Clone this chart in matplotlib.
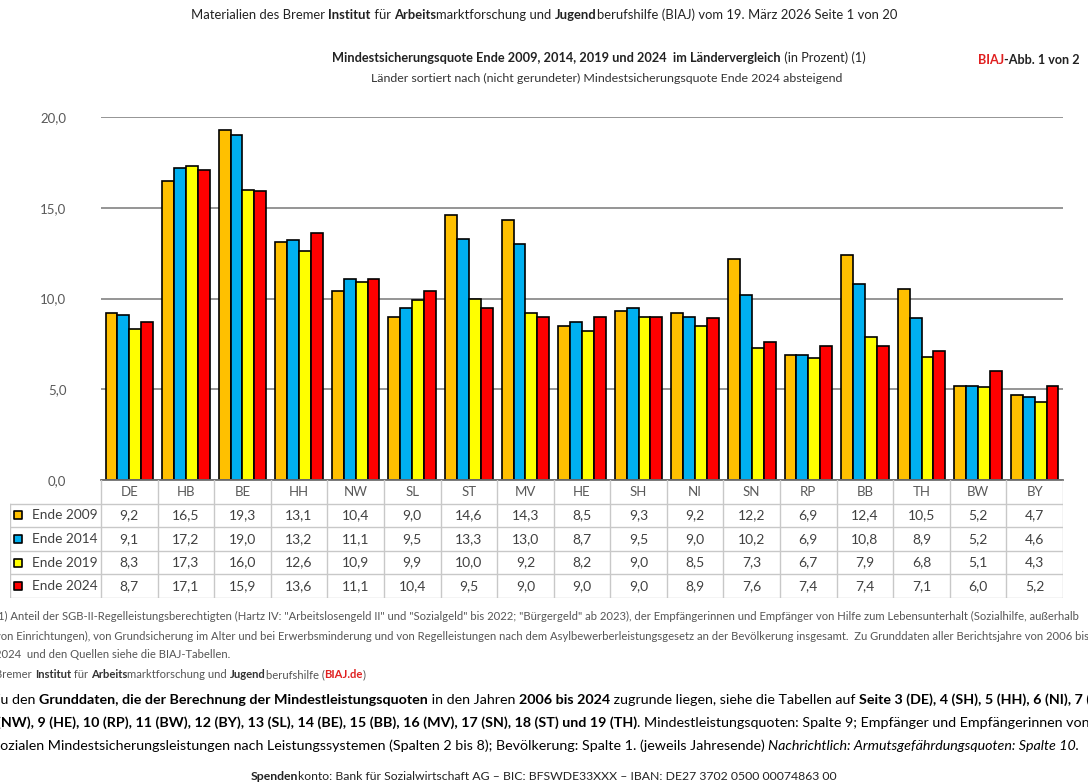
import numpy as np
import matplotlib.pyplot as plt

plt.rcParams['font.family'] = ['Lato', 'DejaVu Sans']

laender = ['DE', 'HB', 'BE', 'HH', 'NW', 'SL', 'ST', 'MV', 'HE', 'SH', 'NI',
           'SN', 'RP', 'BB', 'TH', 'BW', 'BY']
q2009 = [9.2, 16.5, 19.3, 13.1, 10.4, 9.0, 14.6, 14.3, 8.5, 9.3, 9.2, 12.2, 6.9, 12.4, 10.5, 5.2, 4.7]
q2014 = [9.1, 17.2, 19.0, 13.2, 11.1, 9.5, 13.3, 13.0, 8.7, 9.5, 9.0, 10.2, 6.9, 10.8, 8.9, 5.2, 4.6]
q2019 = [8.3, 17.3, 16.0, 12.6, 10.9, 9.9, 10.0, 9.2, 8.2, 9.0, 8.5, 7.3, 6.7, 7.9, 6.8, 5.1, 4.3]
q2024 = [8.7, 17.1, 15.9, 13.6, 11.1, 10.4, 9.5, 9.0, 9.0, 9.0, 8.9, 7.6, 7.4, 7.4, 7.1, 6.0, 5.2]
reihen = ['Ende 2009', 'Ende 2014', 'Ende 2019', 'Ende 2024']
farben = ['#FFC000', '#00B0F0', '#FFFF00', '#FF0000']

W, H = 1088, 782
fig = plt.figure(figsize=(W / 100, H / 100), dpi=100)
renderer = fig.canvas.get_renderer()


def fmt(v):
    return f"{v:.1f}".replace('.', ',')


def breite(s, **kw):
    t = fig.text(0, 0, s, **kw)
    w = t.get_window_extent(renderer).width
    t.remove()
    return w


def rich(x, y, teile, size, ha='left', color='#000000'):
    # teile: (text, weight, farbe, style); Stücke nebeneinander setzen
    ws = [breite('x' + s + 'x', fontsize=size, fontweight=wt, fontstyle=st)
          - breite('xx', fontsize=size, fontweight=wt, fontstyle=st) for s, wt, c, st in teile]
    start = x - sum(ws) / 2 if ha == 'center' else x
    for (s, wt, c, st), w in zip(teile, ws):
        fig.text(start / W, 1 - y / H, s, fontsize=size, fontweight=wt,
                 fontstyle=st, color=c or color, ha='left', va='center')
        start += w


N, B = 'normal', 'bold'

# Kopfzeile
rich(544, 15, [('Materialien des Bremer ', N, None, N), ('Institut', B, None, N),
               (' für ', N, None, N), ('Arbeits', B, None, N),
               ('marktforschung und ', N, None, N), ('Jugend', B, None, N),
               ('berufshilfe (BIAJ) vom 19. März 2026 Seite 1 von 20', N, None, N)],
     9.4, ha='center', color='#222222')
rich(599, 58, [('Mindestsicherungsquote Ende 2009, 2014, 2019 und 2024  im Ländervergleich', B, None, N),
               (' (in Prozent) (1)', N, None, N)], 9.2, ha='center', color='#222222')
rich(607, 78, [('Länder sortiert nach (nicht gerundeter) Mindestsicherungsquote Ende 2024 absteigend', N, None, N)],
     8.9, ha='center', color='#333333')
rich(978, 60, [('BIAJ', B, '#E02020', N), ('-Abb. 1 von 2', B, '#222222', N)], 9.1)

# Diagramm
x0, x1, ytop, ybot = 101, 1063, 117, 480
ax = fig.add_axes([x0 / W, 1 - ybot / H, (x1 - x0) / W, (ybot - ytop) / H])
x = np.arange(len(laender))
bw = 0.21
for i, (werte, f) in enumerate(zip([q2009, q2014, q2019, q2024], farben)):
    ax.bar(x + (i - 1.5) * bw, werte, bw, color=f, edgecolor='black', linewidth=1.2, zorder=3)
ax.set_xlim(-0.5, len(laender) - 0.5)
ax.set_ylim(0, 20)
ax.set_yticks([0, 5, 10, 15, 20])
ax.set_yticklabels([fmt(v) for v in [0, 5, 10, 15, 20]])
ax.tick_params(axis='y', length=0, pad=25, labelsize=9.5, labelcolor='#595959')
ax.set_xticks([])
ax.grid(axis='y', color='#8c8c8c', linewidth=1.3, zorder=0)
for s in ['top', 'left', 'right']:
    ax.spines[s].set_visible(False)
ax.spines['bottom'].set_color('#6f6f6f')
ax.spines['bottom'].set_linewidth(1.3)
ax.spines['bottom'].set_zorder(4)

# Datentabelle
lab_w = (x0 - 10) / 56.6
tab = fig.add_axes([10 / W, 1 - 598 / H, (x1 - 10) / W, (598 - ybot) / H])
tab.set_xlim(-0.5 - lab_w, len(laender) - 0.5)
tab.set_ylim(5, 0)
tab.axis('off')
gc = '#c8c8c8'
for k in range(len(laender) + 1):
    tab.plot([k - 0.5, k - 0.5], [0, 5], color=gc, lw=1)
for r in range(1, 6):
    tab.plot([-0.5 - lab_w, len(laender) - 0.5], [r, r], color=gc, lw=1)
tab.plot([-0.5 - lab_w, -0.5 - lab_w], [1, 5], color=gc, lw=1)
for j, l in enumerate(laender):
    tab.text(j, 0.5, l, ha='center', va='center', fontsize=9.5, color='#595959')
for r, (name, werte, f) in enumerate(zip(reihen, [q2009, q2014, q2019, q2024], farben)):
    yy = r + 1.5
    tab.scatter([-0.5 - lab_w + 8 / 56.6], [yy], s=34, marker='s', color=f,
                edgecolor='black', linewidth=1.2, zorder=3, clip_on=False)
    tab.text(-0.5 - lab_w + 22 / 56.6, yy, name, ha='left', va='center', fontsize=9.8, color='#404040')
    for j, v in enumerate(werte):
        tab.text(j, yy, fmt(v), ha='center', va='center', fontsize=10, color='#404040')

# Fußnoten
g = '#555555'
fs = 8.1
rich(-5, 616, [('(1) Anteil der SGB-II-Regelleistungsberechtigten (Hartz IV: "Arbeitslosengeld II" und "Sozialgeld" bis 2022; "Bürgergeld" ab 2023), '
                'der Empfängerinnen und Empfänger von Hilfe zum Lebensunterhalt (Sozialhilfe, außerhalb', N, None, N)], fs, color=g)
rich(-5, 636, [('von Einrichtungen), von Grundsicherung im Alter und bei Erwerbsminderung und von Regelleistungen nach dem Asylbewerberleistungsgesetz '
                'an der Bevölkerung insgesamt.  Zu Grunddaten aller Berichtsjahre von 2006 bis', N, None, N)], fs, color=g)
rich(-5, 655, [('2024  und den Quellen siehe die BIAJ-Tabellen.', N, None, N)], fs, color=g)
rich(-5, 675, [('Bremer ', N, None, N), ('Institut', B, '#333333', N), (' für ', N, None, N),
               ('Arbeits', B, '#333333', N), ('marktforschung und ', N, None, N), ('Jugend', B, '#333333', N),
               ('berufshilfe (', N, None, N), ('BIAJ.de', B, '#E02020', N), (')', N, None, N)], fs, color=g)

fb = 10.3
rich(-8, 700, [('Zu den ', N, None, N), ('Grunddaten, die der Berechnung der Mindestleistungsquoten', B, None, N),
               (' in den Jahren ', N, None, N), ('2006 bis 2024', B, None, N),
               (' zugrunde liegen, siehe die Tabellen auf ', N, None, N),
               ('Seite 3 (DE), 4 (SH), 5 (HH), 6 (NI), 7 (HB), 8', B, None, N)], fb)
rich(-3, 723, [('(NW), 9 (HE), 10 (RP), 11 (BW), 12 (BY), 13 (SL), 14 (BE), 15 (BB), 16 (MV), 17 (SN), 18 (ST) und 19 (TH)', B, None, N),
               ('. Mindestleistungsquoten: Spalte 9; Empfänger und Empfängerinnen von', N, None, N)], fb)
rich(-6, 746, [('sozialen Mindestsicherungsleistungen nach Leistungssystemen (Spalten 2 bis 8); Bevölkerung: Spalte 1. (jeweils Jahresende) ', N, None, N),
               ('Nachrichtlich: Armutsgefährdungsquoten: Spalte 10.', N, None, 'italic')], fb)
rich(544, 776, [('Spenden', B, None, N),
                ('konto: Bank für Sozialwirtschaft AG – BIC: BFSWDE33XXX – IBAN: DE27 3702 0500 00074863 00', N, None, N)],
     8.8, ha='center', color='#222222')

fig.savefig('out.png', dpi=100)
